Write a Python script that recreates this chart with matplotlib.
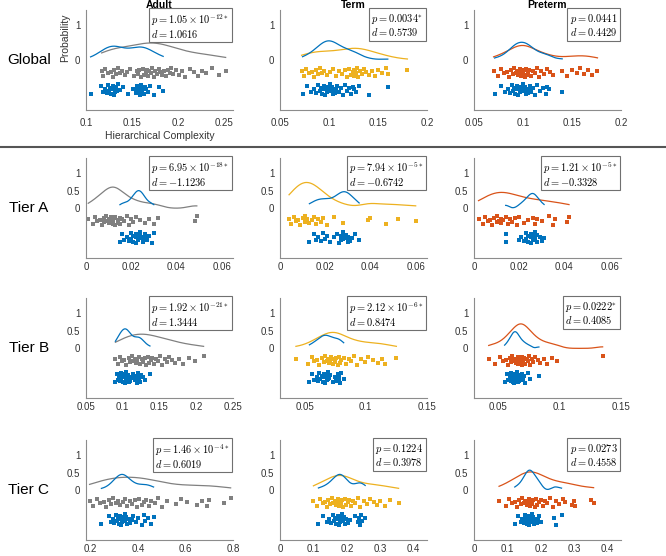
import numpy as np
import matplotlib
matplotlib.use('Agg')
from matplotlib import pyplot as plt
from matplotlib.lines import Line2D

plt.rcParams['font.family'] = ['Liberation Sans', 'DejaVu Sans']
plt.rcParams['mathtext.fontset'] = 'cm'

rows = ['Global', 'Tier A', 'Tier B', 'Tier C']
cols = ['Adult', 'Term', 'Preterm']

# hierarchical complexity values, upper cloud (group) and lower cloud (blue)
global_adult = [0.117, 0.119, 0.121, 0.124, 0.127, 0.129, 0.131, 0.133, 0.135, 0.137, 0.139, 0.142, 0.145,
                0.148, 0.152, 0.155, 0.157, 0.158, 0.160, 0.162, 0.163, 0.165, 0.166, 0.168, 0.169, 0.171,
                0.172, 0.174, 0.175, 0.177, 0.179, 0.181, 0.183, 0.185, 0.187, 0.189, 0.191, 0.193, 0.195,
                0.198, 0.201, 0.204, 0.208, 0.213, 0.218, 0.222, 0.226, 0.231, 0.237, 0.245, 0.252]
global_adult_ref = [0.105, 0.116, 0.119, 0.121, 0.123, 0.124, 0.125, 0.126, 0.127, 0.128, 0.129, 0.130, 0.131,
                    0.132, 0.133, 0.134, 0.135, 0.137, 0.140, 0.146, 0.151, 0.154, 0.155, 0.156, 0.157, 0.158,
                    0.159, 0.160, 0.161, 0.162, 0.163, 0.164, 0.165, 0.167, 0.170, 0.174, 0.179, 0.184]
global_term = [0.072, 0.074, 0.077, 0.080, 0.083, 0.085, 0.087, 0.089, 0.091, 0.093, 0.095, 0.098, 0.101, 0.104,
               0.107, 0.110, 0.113, 0.116, 0.118, 0.120, 0.122, 0.124, 0.125, 0.126, 0.127, 0.128, 0.129, 0.130,
               0.132, 0.134, 0.136, 0.138, 0.141, 0.144, 0.147, 0.150, 0.154, 0.158, 0.160, 0.180]
global_term_ref = [0.073, 0.078, 0.082, 0.085, 0.087, 0.089, 0.091, 0.092, 0.093, 0.094, 0.095, 0.096, 0.097,
                   0.098, 0.099, 0.100, 0.101, 0.102, 0.103, 0.104, 0.105, 0.106, 0.107, 0.108, 0.110, 0.112,
                   0.114, 0.116, 0.118, 0.120, 0.122, 0.124, 0.126, 0.128, 0.131, 0.141, 0.160]
global_preterm = [0.070, 0.074, 0.078, 0.081, 0.084, 0.086, 0.088, 0.090, 0.091, 0.093, 0.094, 0.095, 0.096,
                  0.097, 0.098, 0.099, 0.100, 0.101, 0.102, 0.103, 0.104, 0.105, 0.106, 0.108, 0.110, 0.112,
                  0.114, 0.116, 0.118, 0.121, 0.124, 0.128, 0.131, 0.140, 0.145, 0.150, 0.155, 0.158, 0.162,
                  0.166, 0.170, 0.176]
global_preterm_ref = [0.071, 0.078, 0.082, 0.085, 0.087, 0.089, 0.090, 0.091, 0.092, 0.093, 0.094, 0.095, 0.096,
                      0.097, 0.098, 0.099, 0.100, 0.101, 0.102, 0.103, 0.104, 0.105, 0.106, 0.107, 0.108, 0.110,
                      0.112, 0.114, 0.117, 0.120, 0.123, 0.125, 0.127, 0.140]

tierA_adult = [0.001, 0.003, 0.004, 0.005, 0.006, 0.007, 0.008, 0.008, 0.009, 0.009, 0.010, 0.010, 0.011, 0.011,
               0.012, 0.012, 0.012, 0.013, 0.013, 0.013, 0.014, 0.014, 0.015, 0.015, 0.016, 0.017, 0.018, 0.019,
               0.020, 0.021, 0.022, 0.024, 0.026, 0.028, 0.030, 0.032, 0.048, 0.049]
tierA_adult_ref = [0.015, 0.016, 0.017, 0.018, 0.019, 0.020, 0.020, 0.021, 0.021, 0.022, 0.022, 0.022, 0.023,
                   0.023, 0.023, 0.023, 0.024, 0.024, 0.024, 0.025, 0.025, 0.025, 0.026, 0.026, 0.027, 0.028,
                   0.029, 0.030]
tierA_term = [0.004, 0.005, 0.006, 0.007, 0.008, 0.009, 0.010, 0.011, 0.011, 0.012, 0.012, 0.013, 0.014, 0.015,
              0.016, 0.017, 0.018, 0.019, 0.021, 0.024, 0.028, 0.039, 0.040, 0.047, 0.052, 0.060]
tierA_term_ref = [0.013, 0.015, 0.016, 0.017, 0.018, 0.019, 0.020, 0.021, 0.022, 0.024, 0.025, 0.026, 0.027,
                  0.027, 0.028, 0.028, 0.028, 0.029, 0.029, 0.030, 0.030, 0.031, 0.032, 0.033, 0.035]
tierA_preterm = [0.002, 0.004, 0.005, 0.006, 0.007, 0.008, 0.009, 0.010, 0.010, 0.011, 0.012, 0.012, 0.013,
                 0.014, 0.015, 0.016, 0.017, 0.018, 0.019, 0.020, 0.022, 0.024, 0.026, 0.027, 0.028, 0.030,
                 0.033, 0.035, 0.036, 0.041, 0.042]
tierA_preterm_ref = [0.014, 0.014, 0.020, 0.021, 0.022, 0.023, 0.023, 0.024, 0.024, 0.025, 0.025, 0.025, 0.026,
                     0.026, 0.026, 0.027, 0.027, 0.027, 0.028, 0.028, 0.029, 0.030, 0.031]

tierB_adult = [0.090, 0.093, 0.096, 0.099, 0.102, 0.105, 0.108, 0.110, 0.112, 0.114, 0.116, 0.118, 0.120, 0.122,
               0.124, 0.126, 0.128, 0.130, 0.132, 0.134, 0.136, 0.138, 0.140, 0.142, 0.145, 0.148, 0.151, 0.154,
               0.157, 0.160, 0.163, 0.167, 0.171, 0.176, 0.182, 0.190, 0.198, 0.210]
tierB_adult_ref = [0.090, 0.092, 0.094, 0.095, 0.096, 0.097, 0.098, 0.099, 0.100, 0.101, 0.102, 0.103, 0.103,
                   0.104, 0.104, 0.105, 0.105, 0.106, 0.107, 0.108, 0.109, 0.110, 0.112, 0.114, 0.116, 0.118,
                   0.120, 0.121, 0.122, 0.123, 0.124, 0.125, 0.127, 0.130, 0.137]
tierB_term = [0.043, 0.053, 0.056, 0.058, 0.060, 0.062, 0.064, 0.066, 0.067, 0.068, 0.069, 0.070, 0.071, 0.072,
              0.073, 0.074, 0.075, 0.076, 0.077, 0.078, 0.079, 0.080, 0.082, 0.084, 0.086, 0.088, 0.090, 0.093,
              0.096, 0.099, 0.102, 0.106, 0.110, 0.113, 0.116, 0.125]
tierB_term_ref = [0.054, 0.056, 0.058, 0.060, 0.061, 0.062, 0.063, 0.064, 0.065, 0.066, 0.066, 0.067, 0.067,
                  0.068, 0.068, 0.069, 0.069, 0.070, 0.071, 0.073, 0.075, 0.076, 0.077, 0.077, 0.078, 0.078,
                  0.079, 0.080, 0.082]
tierB_preterm = [0.042, 0.047, 0.051, 0.054, 0.056, 0.058, 0.059, 0.060, 0.061, 0.062, 0.063, 0.064, 0.065,
                 0.066, 0.066, 0.067, 0.068, 0.068, 0.069, 0.069, 0.070, 0.070, 0.071, 0.072, 0.073, 0.074,
                 0.075, 0.076, 0.077, 0.078, 0.080, 0.082, 0.084, 0.087, 0.090, 0.094, 0.098, 0.135]
tierB_preterm_ref = [0.055, 0.057, 0.058, 0.059, 0.060, 0.060, 0.061, 0.061, 0.062, 0.062, 0.063, 0.063, 0.063,
                     0.064, 0.064, 0.064, 0.065, 0.065, 0.066, 0.066, 0.067, 0.067, 0.068, 0.069, 0.070, 0.071,
                     0.072, 0.074, 0.076, 0.083]

tierC_adult = [0.195, 0.210, 0.225, 0.240, 0.255, 0.265, 0.275, 0.285, 0.295, 0.305, 0.315, 0.325, 0.335, 0.345,
               0.355, 0.365, 0.375, 0.385, 0.395, 0.405, 0.415, 0.425, 0.435, 0.445, 0.455, 0.470, 0.485, 0.500,
               0.520, 0.560, 0.580, 0.605, 0.650, 0.670, 0.690, 0.700, 0.760, 0.790]
tierC_adult_ref = [0.245, 0.275, 0.285, 0.295, 0.300, 0.305, 0.310, 0.315, 0.320, 0.322, 0.325, 0.328, 0.330,
                   0.333, 0.336, 0.340, 0.343, 0.346, 0.350, 0.355, 0.360, 0.365, 0.372, 0.380, 0.390, 0.400,
                   0.415, 0.425, 0.430, 0.440, 0.455, 0.465]
tierC_term = [0.100, 0.110, 0.120, 0.128, 0.135, 0.140, 0.145, 0.150, 0.155, 0.160, 0.165, 0.168, 0.172, 0.175,
              0.178, 0.180, 0.183, 0.186, 0.190, 0.194, 0.198, 0.203, 0.208, 0.213, 0.218, 0.224, 0.232, 0.240,
              0.250, 0.260, 0.270, 0.280, 0.290, 0.300, 0.315, 0.330, 0.355]
tierC_term_ref = [0.115, 0.130, 0.140, 0.148, 0.153, 0.158, 0.162, 0.165, 0.168, 0.171, 0.174, 0.176, 0.178,
                  0.180, 0.182, 0.184, 0.186, 0.188, 0.191, 0.194, 0.198, 0.203, 0.210, 0.225, 0.232, 0.237,
                  0.240, 0.243, 0.246, 0.255]
tierC_preterm = [0.075, 0.095, 0.105, 0.115, 0.122, 0.128, 0.134, 0.140, 0.145, 0.150, 0.154, 0.158, 0.162,
                 0.165, 0.168, 0.171, 0.174, 0.178, 0.182, 0.186, 0.190, 0.195, 0.200, 0.206, 0.212, 0.220,
                 0.228, 0.236, 0.245, 0.255, 0.265, 0.272, 0.293, 0.300, 0.303, 0.350, 0.358]
tierC_preterm_ref = [0.122, 0.132, 0.140, 0.145, 0.149, 0.152, 0.155, 0.157, 0.159, 0.161, 0.163, 0.165, 0.166,
                     0.168, 0.170, 0.172, 0.174, 0.176, 0.178, 0.181, 0.184, 0.188, 0.192, 0.196, 0.200, 0.238,
                     0.245, 0.262]

groups = [
    [(global_adult, global_adult_ref), (global_term, global_term_ref), (global_preterm, global_preterm_ref)],
    [(tierA_adult, tierA_adult_ref), (tierA_term, tierA_term_ref), (tierA_preterm, tierA_preterm_ref)],
    [(tierB_adult, tierB_adult_ref), (tierB_term, tierB_term_ref), (tierB_preterm, tierB_preterm_ref)],
    [(tierC_adult, tierC_adult_ref), (tierC_term, tierC_term_ref), (tierC_preterm, tierC_preterm_ref)],
]

# height of the density curves (group, blue)
peaks = [
    [(0.49, 0.40), (0.34, 0.55), (0.42, 0.51)],
    [(0.60, 0.50), (0.73, 0.47), (0.45, 0.42)],
    [(0.40, 0.55), (0.45, 0.37), (0.69, 0.47)],
    [(0.37, 0.45), (0.42, 0.45), (0.52, 0.57)],
]

p_labels = [
    [r'1.05 \times 10^{-12*}', r'0.0034^{*}', r'0.0441'],
    [r'6.95 \times 10^{-18*}', r'7.94 \times 10^{-5*}', r'1.21 \times 10^{-5*}'],
    [r'1.92 \times 10^{-21*}', r'2.12 \times 10^{-6*}', r'0.0222^{*}'],
    [r'1.46 \times 10^{-4*}', r'0.1224', r'0.0273'],
]
d_values = [
    ['1.0616', '0.5739', '0.4429'],
    ['-1.1236', '-0.6742', '-0.3328'],
    ['1.3444', '0.8474', '0.4085'],
    ['0.6019', '0.3978', '0.4558'],
]

xlims = [
    [(0.1, 0.26), (0.05, 0.2), (0.05, 0.2)],
    [(0, 0.065), (0, 0.065), (0, 0.065)],
    [(0.05, 0.25), (0.03, 0.15), (0.03, 0.15)],
    [(0.18, 0.8), (0, 0.44), (0, 0.44)],
]
xticks = [
    [[0.1, 0.15, 0.2, 0.25], [0.05, 0.1, 0.15, 0.2], [0.05, 0.1, 0.15, 0.2]],
    [[0, 0.02, 0.04, 0.06]] * 3,
    [[0.05, 0.1, 0.15, 0.2, 0.25], [0.05, 0.1, 0.15], [0.05, 0.1, 0.15]],
    [[0.2, 0.4, 0.6, 0.8], [0, 0.1, 0.2, 0.3, 0.4], [0, 0.1, 0.2, 0.3, 0.4]],
]

# vertical scatter offsets of the rain clouds
jitter = [0.3, -0.7, 0.8, -0.2, 0.1, -0.9, 0.6, -0.4, 0.9, -0.1, 0.4, -0.6, 0.0, 0.7, -0.8, 0.2, -0.3, 0.5,
          -1.0, 0.8, -0.5, 0.1, 0.6, -0.7, 0.3, -0.2, 0.9, -0.9, 0.4, -0.4, 0.7, 0.0, -0.6, 0.2, -0.8, 0.5,
          -0.1, 1.0, -0.3, 0.6, -0.5, 0.3, -0.9, 0.8, 0.1, -0.7, 0.4, -0.2, 0.9, -0.6, 0.2, -0.4, 0.7, -0.8]

colors = ['#808080', '#EDB120', '#D95319']
blue = '#0072BD'
axis_grey = '#8c8c8c'


def kde_curve(values, peak):
    x = np.asarray(values)
    # bandwidth like matlab ksdensity (a bit narrower, the real groups are larger)
    sig = np.median(np.abs(x - np.median(x))) / 0.6745
    h = 0.9 * sig * (4 / (3 * len(x))) ** 0.2
    grid = np.linspace(x.min(), x.max(), 200)
    dens = np.exp(-0.5 * ((grid[:, None] - x[None, :]) / h) ** 2).sum(axis=1)
    return grid, dens / dens.max() * peak


fig = plt.figure(figsize=(6.66, 5.56), dpi=100)
W, H = 666, 556
lefts = [86, 280, 474]
tops = [10, 158, 298, 440]
aw, ah = 147, 100

for r in range(4):
    for c in range(3):
        ax = fig.add_axes([lefts[c] / W, 1 - (tops[r] + ah) / H, aw / W, ah / H])
        grp, ref = groups[r][c]
        pk_g, pk_b = peaks[r][c]

        gx, gy = kde_curve(grp, pk_g)
        ax.plot(gx, gy, color=colors[c], lw=0.9)
        bx, by = kde_curve(ref, pk_b)
        ax.plot(bx, by, color=blue, lw=0.9)

        ax.scatter(grp, -0.34 + 0.13 * np.array(jitter[:len(grp)]), s=6, marker='s',
                   color=colors[c], linewidths=0)
        ax.scatter(ref, -0.83 + 0.15 * np.array(jitter[::-1][:len(ref)]), s=6, marker='s',
                   color=blue, linewidths=0)

        ax.set_xlim(*xlims[r][c])
        ax.set_ylim(-1.4, 1.42)
        ax.set_xticks(xticks[r][c])
        ax.set_xticklabels([f'{t:g}' for t in xticks[r][c]])
        if r == 0:
            ax.set_yticks([0, 1])
            ax.set_yticklabels(['0', '1'])
        else:
            ax.set_yticks([0, 0.5, 1])
            ax.set_yticklabels(['0', '0.5', '1'])
        ax.tick_params(length=0, labelsize=7, colors='#333333', pad=4)
        ax.tick_params(axis='x', pad=6 if r == 0 else 3)
        for side in ['top', 'right']:
            ax.spines[side].set_visible(False)
        for side in ['left', 'bottom']:
            ax.spines[side].set_color(axis_grey)
            ax.spines[side].set_linewidth(0.8)

        txt = f'$p = {p_labels[r][c]}$\n$d = {d_values[r][c]}$'
        ax.text(0.975, 0.975, txt, transform=ax.transAxes, ha='right', va='top', fontsize=7.5,
                multialignment='left', linespacing=0.95,
                bbox=dict(boxstyle='square,pad=0.25', fc='white', ec='#707070', lw=0.8))

        if r == 0:
            ax.set_title(cols[c], fontsize=7.5, fontweight='bold', pad=1)
            if c == 0:
                ax.set_xlabel('Hierarchical Complexity', fontsize=7.5, color='#333333', labelpad=2)
                ax.set_ylabel('Probability', fontsize=7.5, color='#333333')
                ax.yaxis.set_label_coords(-0.11, 0.72)

for r, name in enumerate(rows):
    y0 = tops[r] + ah * 1.42 / 2.82
    fig.text(29 / W, 1 - y0 / H, name, fontsize=11, ha='center', va='center')

fig.add_artist(Line2D([0, 1], [1 - 147 / H, 1 - 147 / H], color='#555555', lw=1.5))

fig.savefig('out.png', dpi=100)
